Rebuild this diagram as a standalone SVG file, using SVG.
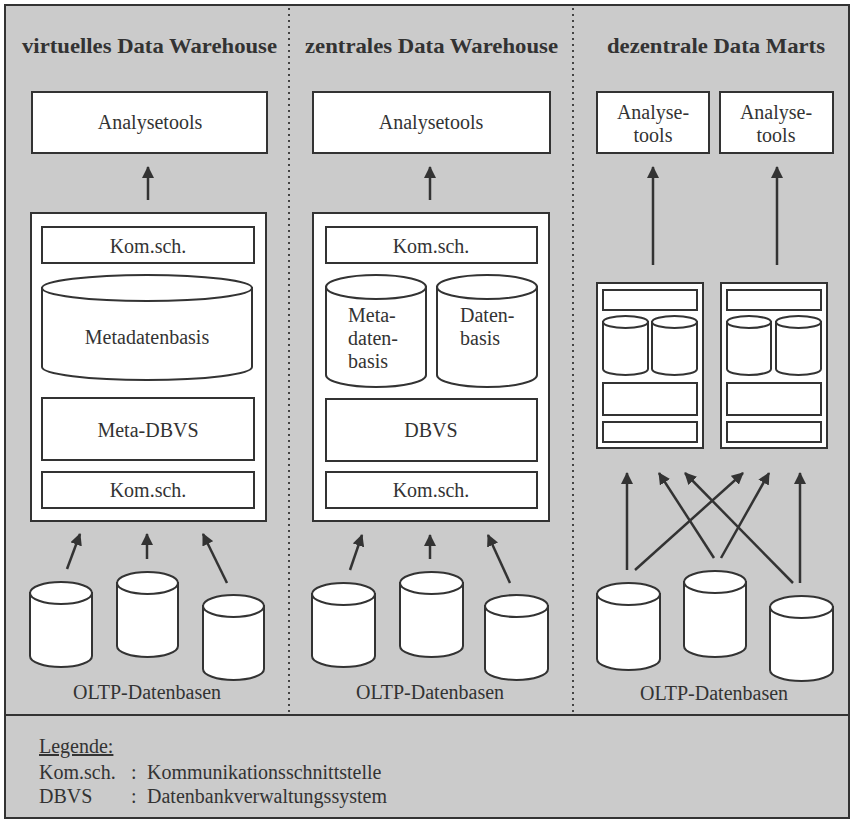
<svg xmlns="http://www.w3.org/2000/svg" width="853" height="822" viewBox="0 0 853 822">
<defs>
<style>
.bx{fill:#fff;stroke:#333;stroke-width:2}
.cy{fill:#fff;stroke:#333;stroke-width:2}
.t{font-family:"Liberation Serif","Times New Roman",serif;font-size:20px;fill:#333}
.c{text-anchor:middle}
.h{font-family:"Liberation Serif","Times New Roman",serif;font-size:22px;font-weight:bold;fill:#333}
.ln{stroke:#333;stroke-width:2;fill:none}
.ar{stroke:#333;stroke-width:2.5;fill:none;marker-end:url(#ah)}
.dot{stroke:#444;stroke-width:2;stroke-dasharray:2 4}
</style>
<marker id="ah" viewBox="0 0 12 12" refX="11" refY="6" markerWidth="12" markerHeight="12" markerUnits="userSpaceOnUse" orient="auto">
<path d="M0,0 L12,6 L0,12 Z" fill="#333"/>
</marker>
</defs>
<rect x="0" y="0" width="853" height="822" fill="#fff"/>
<rect x="5" y="5" width="844" height="813" fill="#cbcbcb" stroke="#333" stroke-width="2"/>
<line class="ln" x1="5" y1="715" x2="849" y2="715"/>
<line class="dot" x1="289" y1="8" x2="289" y2="713"/>
<line class="dot" x1="573" y1="8" x2="573" y2="713"/>

<g id="titles">
<text class="h" x="22" y="53" textLength="255" lengthAdjust="spacingAndGlyphs">virtuelles Data Warehouse</text>
<text class="h" x="305" y="53" textLength="253" lengthAdjust="spacingAndGlyphs">zentrales Data Warehouse</text>
<text class="h" x="607" y="53" textLength="218" lengthAdjust="spacingAndGlyphs">dezentrale Data Marts</text>
</g>

<!-- Column 1 -->
<g id="analysetools1">
<rect class="bx" x="32" y="92" width="235" height="61"/>
<text class="t c" x="150" y="129">Analysetools</text>
</g>
<g id="vdw">
<rect class="bx" x="31" y="213" width="235" height="308"/>
<rect class="bx" x="42" y="227" width="212" height="36"/>
<text class="t c" x="148" y="253">Kom.sch.</text>
<path class="cy" d="M42,288 L42,367 A105,13 0 0 0 252,367 L252,288 Z"/>
<ellipse class="cy" cx="147" cy="288" rx="105" ry="13"/>
<text class="t c" x="147" y="344">Metadatenbasis</text>
<rect class="bx" x="42" y="398" width="212" height="62"/>
<text class="t c" x="148" y="437">Meta-DBVS</text>
<rect class="bx" x="42" y="472" width="212" height="36"/>
<text class="t c" x="148" y="497">Kom.sch.</text>
</g>
<g id="oltp1">
<path class="cy" d="M30,593 L30,656 A31,11 0 0 0 92,656 L92,593 Z"/><ellipse class="cy" cx="61" cy="593" rx="31" ry="11"/>
<path class="cy" d="M117,583 L117,646 A30.5,11 0 0 0 178,646 L178,583 Z"/><ellipse class="cy" cx="147.5" cy="583" rx="30.5" ry="11"/>
<path class="cy" d="M203,606 L203,669 A30.5,11 0 0 0 264,669 L264,606 Z"/><ellipse class="cy" cx="233.5" cy="606" rx="30.5" ry="11"/>
<text class="t c" x="147" y="699">OLTP-Datenbasen</text>
</g>

<!-- Column 2 -->
<g id="analysetools2">
<rect class="bx" x="313" y="92" width="237" height="61"/>
<text class="t c" x="431" y="129">Analysetools</text>
</g>
<g id="zdw">
<rect class="bx" x="313" y="213" width="236" height="308"/>
<rect class="bx" x="326" y="227" width="211" height="36"/>
<text class="t c" x="431" y="253">Kom.sch.</text>
<path class="cy" d="M326,287 L326,375 A50,12 0 0 0 426,375 L426,287 Z"/><ellipse class="cy" cx="376" cy="287" rx="50" ry="12"/>
<text class="t" x="348" y="322">Meta-</text>
<text class="t" x="348" y="345">daten-</text>
<text class="t" x="348" y="368">basis</text>
<path class="cy" d="M437,287 L437,375 A50,12 0 0 0 537,375 L537,287 Z"/><ellipse class="cy" cx="487" cy="287" rx="50" ry="12"/>
<text class="t" x="460" y="322">Daten-</text>
<text class="t" x="460" y="345">basis</text>
<rect class="bx" x="326" y="399" width="211" height="62"/>
<text class="t c" x="431" y="437">DBVS</text>
<rect class="bx" x="326" y="472" width="211" height="36"/>
<text class="t c" x="431" y="497">Kom.sch.</text>
</g>
<g id="oltp2">
<path class="cy" d="M312,594 L312,656 A31.5,11 0 0 0 375,656 L375,594 Z"/><ellipse class="cy" cx="343.5" cy="594" rx="31.5" ry="11"/>
<path class="cy" d="M400,583 L400,646 A31.5,11 0 0 0 463,646 L463,583 Z"/><ellipse class="cy" cx="431.5" cy="583" rx="31.5" ry="11"/>
<path class="cy" d="M485,606 L485,669 A31.5,11 0 0 0 548,669 L548,606 Z"/><ellipse class="cy" cx="516.5" cy="606" rx="31.5" ry="11"/>
<text class="t c" x="430" y="699">OLTP-Datenbasen</text>
</g>

<!-- Column 3 -->
<g id="analysetools3a">
<rect class="bx" x="597" y="92" width="112" height="61"/>
<text class="t c" x="653" y="119">Analyse-</text>
<text class="t c" x="653" y="142">tools</text>
</g>
<g id="analysetools3b">
<rect class="bx" x="720" y="92" width="113" height="61"/>
<text class="t c" x="776" y="119">Analyse-</text>
<text class="t c" x="776" y="142">tools</text>
</g>
<g id="mart1">
<rect class="bx" x="597" y="283" width="106" height="165"/>
<rect class="bx" x="603" y="290" width="94" height="20"/>
<path class="cy" d="M603,322 L603,369 A22.5,6 0 0 0 648,369 L648,322 Z"/><ellipse class="cy" cx="625.5" cy="322" rx="22.5" ry="6"/>
<path class="cy" d="M652,322 L652,369 A22.5,6 0 0 0 697,369 L697,322 Z"/><ellipse class="cy" cx="674.5" cy="322" rx="22.5" ry="6"/>
<rect class="bx" x="603" y="383" width="94" height="32"/>
<rect class="bx" x="603" y="422" width="94" height="20"/>
</g>
<g id="mart2">
<rect class="bx" x="721" y="283" width="106" height="165"/>
<rect class="bx" x="727" y="290" width="94" height="20"/>
<path class="cy" d="M727,322 L727,369 A22,6 0 0 0 771,369 L771,322 Z"/><ellipse class="cy" cx="749" cy="322" rx="22" ry="6"/>
<path class="cy" d="M776,322 L776,369 A22.5,6 0 0 0 821,369 L821,322 Z"/><ellipse class="cy" cx="798.5" cy="322" rx="22.5" ry="6"/>
<rect class="bx" x="727" y="383" width="94" height="32"/>
<rect class="bx" x="727" y="422" width="94" height="20"/>
</g>
<g id="oltp3">
<path class="cy" d="M597,594 L597,659 A31.5,11 0 0 0 660,659 L660,594 Z"/><ellipse class="cy" cx="628.5" cy="594" rx="31.5" ry="11"/>
<path class="cy" d="M684,582 L684,646 A31,11 0 0 0 746,646 L746,582 Z"/><ellipse class="cy" cx="715" cy="582" rx="31" ry="11"/>
<path class="cy" d="M770,607 L770,670 A31.5,11 0 0 0 833,670 L833,607 Z"/><ellipse class="cy" cx="801.5" cy="607" rx="31.5" ry="11"/>
<text class="t c" x="714" y="700">OLTP-Datenbasen</text>
</g>

<g id="connectors">
<line class="ar" x1="148" y1="200" x2="148" y2="167"/>
<line class="ar" x1="67" y1="569" x2="80" y2="534"/>
<line class="ar" x1="147" y1="559" x2="147" y2="534"/>
<line class="ar" x1="227" y1="583" x2="203" y2="534"/>
<line class="ar" x1="430" y1="200" x2="430" y2="167"/>
<line class="ar" x1="350" y1="570" x2="362" y2="535"/>
<line class="ar" x1="430" y1="559" x2="430" y2="535"/>
<line class="ar" x1="510" y1="583" x2="488" y2="535"/>
<line class="ar" x1="653" y1="265" x2="653" y2="167"/>
<line class="ar" x1="777" y1="265" x2="777" y2="167"/>
<line class="ar" x1="627" y1="570" x2="627" y2="473"/>
<line class="ar" x1="635" y1="570" x2="743" y2="473"/>
<line class="ar" x1="714" y1="558" x2="659" y2="473"/>
<line class="ar" x1="721" y1="558" x2="769" y2="473"/>
<line class="ar" x1="793" y1="583" x2="685" y2="473"/>
<line class="ar" x1="800" y1="583" x2="800" y2="473"/>
</g>

<g id="legend">
<text class="t" x="39" y="753" text-decoration="underline">Legende:</text>
<text class="t" x="39" y="779">Kom.sch.</text>
<text class="t" x="131" y="779">:</text>
<text class="t" x="147" y="779">Kommunikationsschnittstelle</text>
<text class="t" x="39" y="803">DBVS</text>
<text class="t" x="131" y="803">:</text>
<text class="t" x="147" y="803">Datenbankverwaltungssystem</text>
</g>
</svg>
